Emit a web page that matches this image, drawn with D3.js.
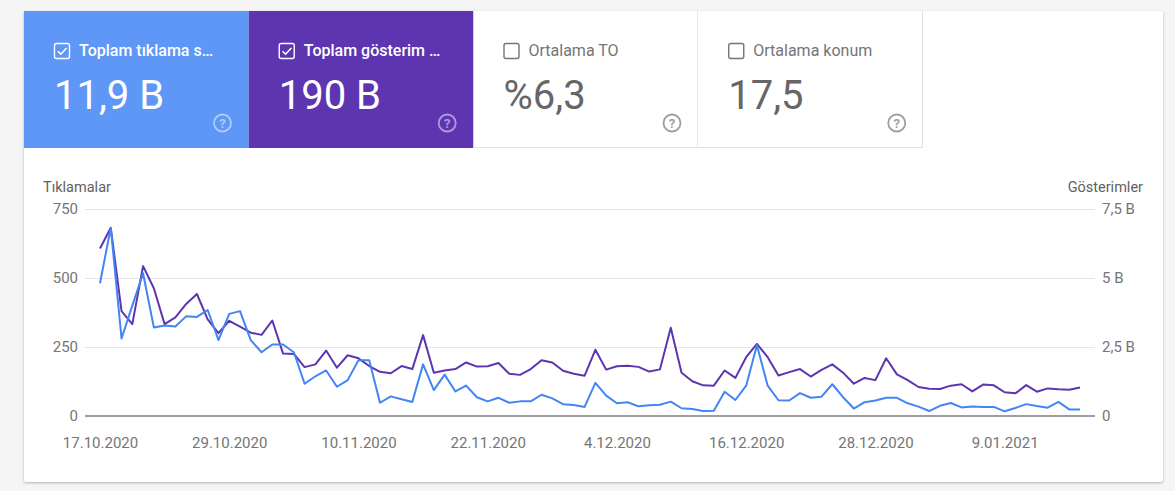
<!DOCTYPE html>
<html lang="tr">
<head>
<meta charset="UTF-8">
<title>Performans</title>
<script src="https://cdn.jsdelivr.net/npm/d3@7"></script>
<style>
body {
	margin: 0;
	background: #f5f5f5;
	font-family: Roboto, "Noto Sans", sans-serif;
}
#card {
	position: absolute;
	left: 24px;
	top: 11px;
	width: 1139px;
	height: 471px;
	background: #fff;
	border-radius: 2px;
	box-shadow: 0 1px 3px rgba(0,0,0,0.28);
}
svg {
	position: absolute;
	left: 0;
	top: 0;
}
.axis text {
	font-family: Roboto, sans-serif;
	font-size: 15px;
	fill: #757575;
}
</style>
</head>
<body>
<div id="card"></div>
<script>

// metric tiles
const metricNames = ["Toplam tıklama s…", "Toplam gösterim …", "Ortalama TO", "Ortalama konum"];
const metricValues = ["11,9 B", "190 B", "%6,3", "17,5"];
const metricSelected = [true, true, false, false];
const metricColors = ["#5e97f6", "#5e35b1", null, null];

// daily series, 17.10.2020 - 16.01.2021
const startDay = new Date(2020, 9, 17);
const clicks = [481, 682, 281, 400, 517, 321, 328, 324, 361, 359, 384, 275, 370, 380, 275, 231,
	259, 259, 231, 117, 144, 165, 106, 130, 202, 202, 48, 71, 61, 51, 187, 94, 150, 89, 110, 68,
	53, 66, 48, 53, 53, 77, 64, 43, 40, 33, 120, 74, 46, 50, 35, 39, 41, 52, 28, 25, 18, 19, 88,
	58, 110, 256, 110, 57, 56, 83, 66, 70, 115, 68, 27, 50, 56, 66, 66, 46, 34, 18, 37, 47, 31,
	34, 33, 33, 17, 29, 43, 36, 30, 51, 24, 24];
const impressions = [6070, 6820, 3800, 3330, 5430, 4630, 3330, 3570, 4060, 4420, 3500, 3000,
	3450, 3240, 3020, 2940, 3460, 2260, 2250, 1770, 1870, 2370, 1750, 2200, 2090, 1810, 1600,
	1550, 1810, 1700, 2930, 1570, 1650, 1700, 1940, 1790, 1800, 1920, 1530, 1490, 1700, 2020,
	1940, 1640, 1530, 1460, 2400, 1680, 1800, 1820, 1780, 1610, 1690, 3200, 1570, 1260, 1110,
	1100, 1650, 1380, 2130, 2610, 2130, 1470, 1590, 1700, 1430, 1670, 1870, 1570, 1170, 1380,
	1300, 2090, 1510, 1300, 1050, 990, 980, 1100, 1150, 890, 1140, 1110, 860, 820, 1120, 880,
	1000, 970, 950, 1030];

// axes
const leftTicks = [0, 250, 500, 750];
const rightTicks = [0, 2500, 5000, 7500];
const rightTickLabels = ["0", "2,5 B", "5 B", "7,5 B"];
const xTickLabels = ["17.10.2020", "29.10.2020", "10.11.2020", "22.11.2020",
	"4.12.2020", "16.12.2020", "28.12.2020", "9.01.2021"];

const days = d3.timeDay.range(startDay, d3.timeDay.offset(startDay, clicks.length));
const parseTick = d3.timeParse("%d.%m.%Y");
const xTicks = xTickLabels.map(parseTick);

const svg = d3.select("body").append("svg")
	.attr("width", 1175)
	.attr("height", 491);

// ---- tiles ----
const tileW = 224.75, tileTop = 11, tileH = 137;
const tiles = svg.selectAll("g.tile")
	.data(metricNames)
	.join("g")
	.attr("class", "tile")
	.attr("transform", (d, i) => `translate(${24 + i * tileW},${tileTop})`);

tiles.append("rect")
	.attr("width", tileW)
	.attr("height", tileH)
	.attr("fill", (d, i) => metricColors[i] || "#fff");

// borders of the white tiles
tiles.filter((d, i) => !metricSelected[i])
	.append("path")
	.attr("d", `M${tileW - 0.5},0V${tileH - 0.5}H0`)
	.attr("fill", "none")
	.attr("stroke", "#e0e0e0");

const fg = i => metricSelected[i] ? "#fff" : "#757575";

tiles.append("rect")
	.attr("x", 30.5)
	.attr("y", 32.5)
	.attr("width", 15)
	.attr("height", 15)
	.attr("rx", 2)
	.attr("fill", "none")
	.attr("stroke", (d, i) => fg(i))
	.attr("stroke-width", 1.4);

tiles.filter((d, i) => metricSelected[i])
	.append("path")
	.attr("d", "M33.8,40.2L36.8,43.2L42.6,37")
	.attr("fill", "none")
	.attr("stroke", "#fff")
	.attr("stroke-width", 1.6);

tiles.append("text")
	.attr("x", 55)
	.attr("y", 45)
	.attr("font-size", 16)
	.attr("font-weight", (d, i) => metricSelected[i] ? 500 : 400)
	.attr("fill", (d, i) => fg(i))
	.text(d => d);

tiles.append("text")
	.attr("x", 30)
	.attr("y", 98)
	.attr("font-size", 40)
	.attr("fill", (d, i) => metricSelected[i] ? "#fff" : "#666")
	.text((d, i) => metricValues[i]);

// help icon
tiles.append("circle")
	.attr("cx", 198.5)
	.attr("cy", 112)
	.attr("r", 8.5)
	.attr("fill", "none")
	.attr("stroke", (d, i) => metricSelected[i] ? "rgba(255,255,255,0.5)" : "#a0a0a0")
	.attr("stroke-width", 1.8);

tiles.append("text")
	.attr("x", 198.5)
	.attr("y", 117)
	.attr("text-anchor", "middle")
	.attr("font-size", 13)
	.attr("font-weight", 700)
	.attr("fill", (d, i) => metricSelected[i] ? "rgba(255,255,255,0.5)" : "#a0a0a0")
	.text("?");

// ---- chart ----
const x = d3.scaleTime()
	.domain([startDay, days[days.length - 1]])
	.range([100, 1080]);
const yL = d3.scaleLinear().domain([0, 750]).range([416, 209]);
const yR = d3.scaleLinear().domain([0, 7500]).range([416, 209]);
const gridX0 = 85, gridX1 = 1095;

svg.append("g")
	.selectAll("line")
	.data(leftTicks.filter(d => d > 0))
	.join("line")
	.attr("x1", gridX0)
	.attr("x2", gridX1)
	.attr("y1", d => yL(d) + 0.5)
	.attr("y2", d => yL(d) + 0.5)
	.attr("stroke", "#e6e6e6");

svg.append("line")
	.attr("x1", gridX0)
	.attr("x2", gridX1)
	.attr("y1", yL(0))
	.attr("y2", yL(0))
	.attr("stroke", "#9e9e9e")
	.attr("stroke-width", 2);

const axL = svg.append("g")
	.attr("class", "axis")
	.attr("transform", "translate(78,0)")
	.call(d3.axisLeft(yL).tickValues(leftTicks).tickSize(0).tickPadding(0));
axL.select(".domain").remove();

const axR = svg.append("g")
	.attr("class", "axis")
	.attr("transform", "translate(1102,0)")
	.call(d3.axisRight(yR).tickValues(rightTicks).tickSize(0).tickPadding(0)
		.tickFormat((d, i) => rightTickLabels[i]));
axR.select(".domain").remove();

const axB = svg.append("g")
	.attr("class", "axis")
	.attr("transform", "translate(0,427)")
	.call(d3.axisBottom(x).tickValues(xTicks).tickSize(0).tickPadding(10)
		.tickFormat((d, i) => xTickLabels[i]));
axB.select(".domain").remove();

svg.append("text")
	.attr("x", 43)
	.attr("y", 192)
	.attr("font-size", 14.5)
	.attr("fill", "#616161")
	.text("Tıklamalar");

svg.append("text")
	.attr("x", 1143)
	.attr("y", 192)
	.attr("text-anchor", "end")
	.attr("font-size", 14.5)
	.attr("fill", "#616161")
	.text("Gösterimler");

const lineL = d3.line()
	.x((d, i) => x(days[i]))
	.y(d => yL(d));
const lineR = d3.line()
	.x((d, i) => x(days[i]))
	.y(d => yR(d));

svg.append("path")
	.datum(impressions)
	.attr("d", lineR)
	.attr("fill", "none")
	.attr("stroke", "#5e35b1")
	.attr("stroke-width", 2)
	.attr("stroke-linejoin", "round");

svg.append("path")
	.datum(clicks)
	.attr("d", lineL)
	.attr("fill", "none")
	.attr("stroke", "#4285f4")
	.attr("stroke-width", 2)
	.attr("stroke-linejoin", "round");

</script>
</body>
</html>
